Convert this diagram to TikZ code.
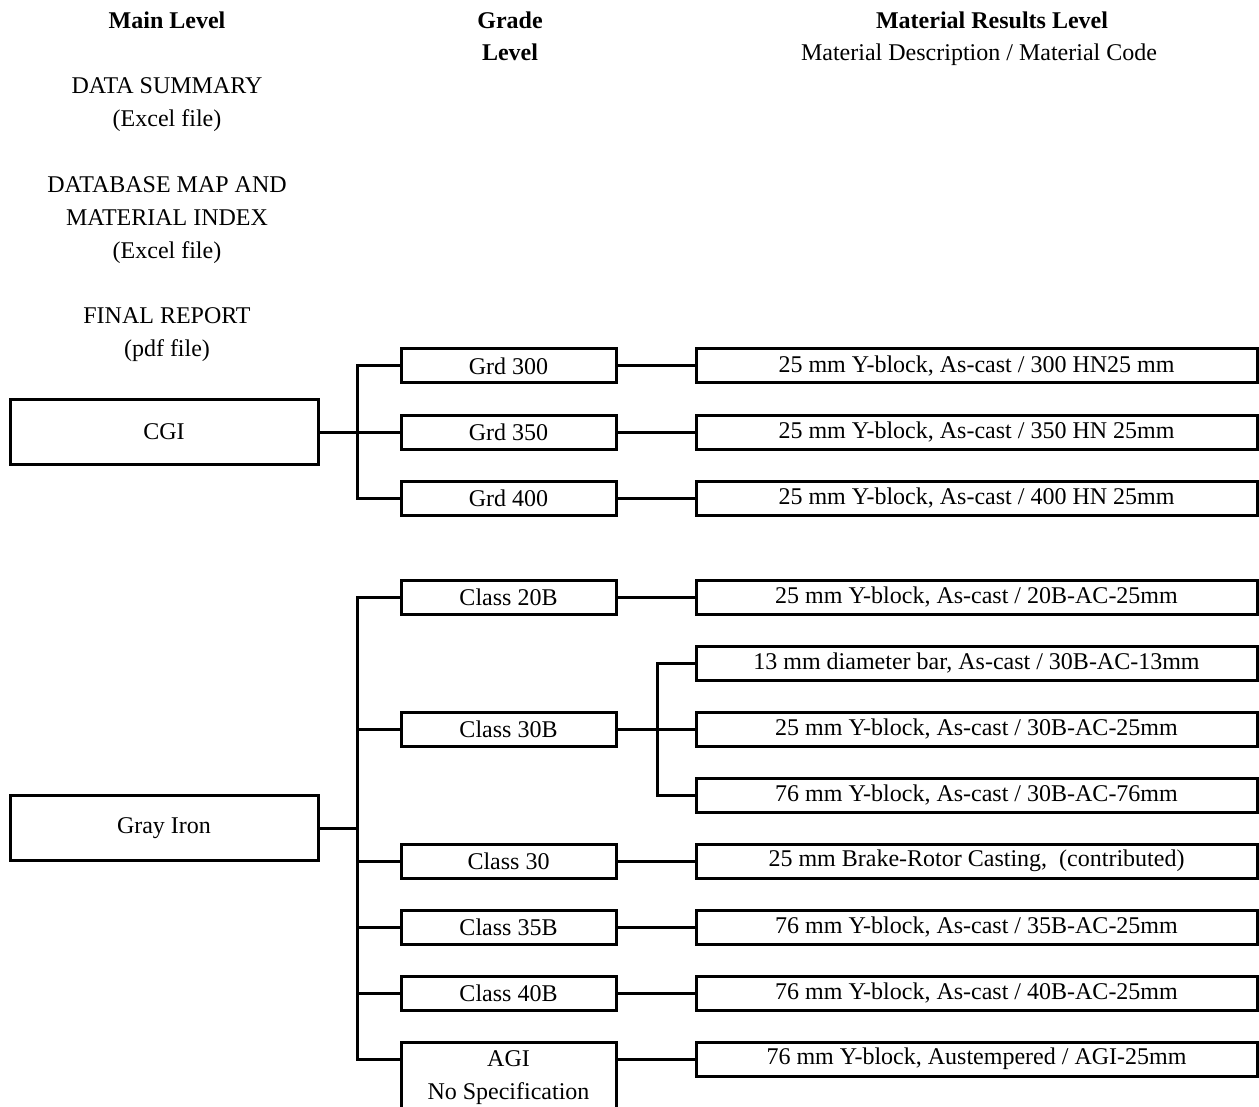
\documentclass[tikz,border=0pt]{standalone}
\usepackage{fontspec}
\setmainfont{Liberation Serif}
\usetikzlibrary{positioning}

\begin{document}
\begin{tikzpicture}[x=0.5pt, y=-0.5pt, node distance=16pt and 40pt,
    font=\fontsize{12pt}{16.5pt}\selectfont]
        \tikzstyle{head}=[font=\fontsize{12pt}{16pt}\selectfont\bfseries, align=center]
        \tikzstyle{note}=[align=center]
        \tikzstyle{mainbox}=[draw, rectangle, line width=1.5pt, outer sep=0pt, minimum width=154pt, minimum height=32.5pt]
        \tikzstyle{grade}=[draw, rectangle, line width=1.5pt, outer sep=0pt, minimum width=107.5pt, minimum height=17pt, inner sep=0pt]
        \tikzstyle{result}=[draw, rectangle, line width=1.5pt, outer sep=0pt, minimum width=280.5pt, minimum height=17pt, inner sep=0pt]
        \tikzstyle{link}=[line width=1.5pt]

        \useasboundingbox (0,0) rectangle (1259,1107);

        % column headings
        \node[head] (hmain) at (167,20) {Main Level};
        \node[head] (hgrade) at (510,36) {Grade\\Level};
        \node[head] (hres) at (992,20) {Material Results Level};
        \node (hdesc) at (979,55) {Material Description / Material Code};

        \node[note] (summary) at (167,105) {DATA SUMMARY\\(Excel file)};
        \node[note] (dbmap) at (167,220) {DATABASE MAP AND\\MATERIAL INDEX\\(Excel file)};
        \node[note] (report) at (167,335) {FINAL REPORT\\(pdf file)};

        % CGI
        \node[mainbox] (cgi) at (164,432) {CGI};
        \node[grade] (g350) [right=41.5pt of cgi] {Grd 350};
        \node[grade] (g300) [above=of g350] {Grd 300};
        \node[grade] (g400) [below=of g350] {Grd 400};

        \node[result] (r300) [right=of g300] {25 mm Y-block, As-cast / 300 HN25 mm};
        \node[result] (r350) [right=of g350] {25 mm Y-block, As-cast / 350 HN 25mm};
        \node[result] (r400) [right=of g400] {25 mm Y-block, As-cast / 400 HN 25mm};

        % Gray Iron
        \node[mainbox] (gray) at (164,828) {Gray Iron};
        \node[grade] (c20b) at (508.5,597) {Class 20B};
        \node[grade] (c30b) [below=49pt of c20b] {Class 30B};
        \node[grade] (c30) [below=49pt of c30b] {Class 30};
        \node[grade] (c35b) [below=of c30] {Class 35B};
        \node[grade] (c40b) [below=of c35b] {Class 40B};
        \node[grade, align=center, inner ysep=4.5pt] (agi) [below=of c40b] {AGI\\No Specification};

        \node[result] (r20b) [right=of c20b] {25 mm Y-block, As-cast / 20B-AC-25mm};
        \node[result] (r30b25) [right=of c30b] {25 mm Y-block, As-cast / 30B-AC-25mm};
        \node[result] (r30b13) [above=of r30b25] {13 mm diameter bar, As-cast / 30B-AC-13mm};
        \node[result] (r30b76) [below=of r30b25] {76 mm Y-block, As-cast / 30B-AC-76mm};
        \node[result] (r30) [right=of c30] {25 mm Brake-Rotor Casting,\ \ (contributed)};
        \node[result] (r35b) [right=of c35b] {76 mm Y-block, As-cast / 35B-AC-25mm};
        \node[result] (r40b) [right=of c40b] {76 mm Y-block, As-cast / 40B-AC-25mm};
        \node[result] (ragi) [right=40pt of agi.north east, anchor=north west] {76 mm Y-block, Austempered / AGI-25mm};

        \draw[link] (cgi.east) -- ++(39,0) |- (g300);
        \draw[link] (cgi.east) -- ++(39,0) |- (g350);
        \draw[link] (cgi.east) -- ++(39,0) |- (g400);

        \draw[link] (g300) -- (r300);
        \draw[link] (g350) -- (r350);
        \draw[link] (g400) -- (r400);

        \draw[link] (gray.east) -- ++(39,0) |- (c20b);
        \draw[link] (gray.east) -- ++(39,0) |- (c30b);
        \draw[link] (gray.east) -- ++(39,0) |- (c30);
        \draw[link] (gray.east) -- ++(39,0) |- (c35b);
        \draw[link] (gray.east) -- ++(39,0) |- (c40b);
        \draw[link] (gray.east) -- ++(39,0) |- (agi.west |- ragi);

        \draw[link] (c20b) -- (r20b);
        \draw[link] (c30b.east) -- ++(41,0) |- (r30b13);
        \draw[link] (c30b.east) -- ++(41,0) |- (r30b25);
        \draw[link] (c30b.east) -- ++(41,0) |- (r30b76);
        \draw[link] (c30) -- (r30);
        \draw[link] (c35b) -- (r35b);
        \draw[link] (c40b) -- (r40b);
        \draw[link] (agi.east |- ragi) -- (ragi);

    \end{tikzpicture}
\end{document}
